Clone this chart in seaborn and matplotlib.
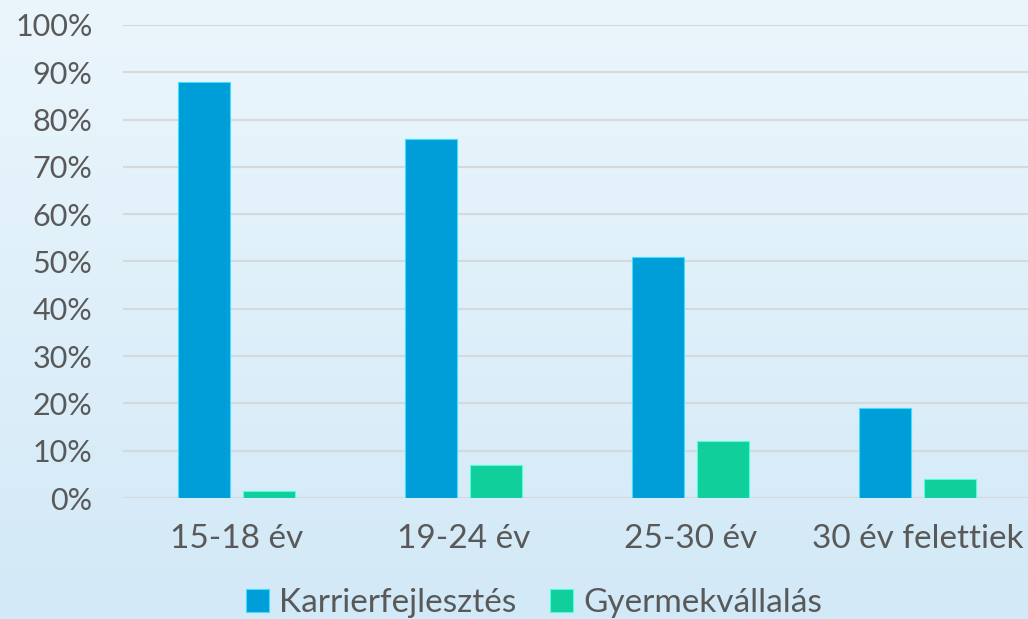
import numpy as np
import pandas as pd
import matplotlib
matplotlib.use("Agg")
import matplotlib.pyplot as plt
import matplotlib.ticker as mtick
import seaborn as sns

# adatok
korcsoportok = ["15-18 év", "19-24 év", "25-30 év", "30 év felettiek"]
karrier = [0.88, 0.76, 0.51, 0.19]
gyermek = [0.015, 0.07, 0.12, 0.04]
sorozatok = ["Karrierfejlesztés", "Gyermekvállalás"]
szinek = ["#009ED8", "#10CF9B"]

df = pd.DataFrame({
    "Korcsoport": korcsoportok * 2,
    "Sorozat": [sorozatok[0]] * 4 + [sorozatok[1]] * 4,
    "Arany": karrier + gyermek,
})

sns.set_style("white")
plt.rcParams["font.family"] = ["Lato", "DejaVu Sans"]

W, H = 1028, 619
fig = plt.figure(figsize=(W / 100, H / 100), dpi=100)

# színátmenetes háttér
bg = fig.add_axes([0, 0, 1, 1], zorder=0)
grad = np.linspace(0, 1, 256).reshape(-1, 1)
top = np.array([0xEB, 0xF6, 0xFC]) / 255
bot = np.array([0xD2, 0xE9, 0xF7]) / 255
img = top + (bot - top) * grad[..., None]
bg.imshow(img, aspect="auto", extent=[0, 1, 0, 1])
bg.axis("off")

ax = fig.add_axes([123 / W, 121 / H, (1031 - 123) / W, (498 - 25) / H], zorder=1)
ax.set_facecolor("none")

sns.barplot(data=df, x="Korcsoport", y="Arany", hue="Sorozat",
            palette=szinek, saturation=1, width=0.573, gap=0.215, ax=ax,
            linewidth=0.8, zorder=3)

for patch in ax.patches:
    fc = patch.get_facecolor()
    patch.set_edgecolor(tuple(min(1, c + 0.25) for c in fc[:3]))

ax.set_ylim(0, 1)
ax.set_xlim(-0.5, 3.5)
ax.yaxis.set_major_locator(mtick.MultipleLocator(0.1))
ax.yaxis.set_major_formatter(mtick.PercentFormatter(1.0, decimals=0))
ax.grid(axis="y", color="#D6D9DC", linewidth=1.5, zorder=0)
ax.set_axisbelow(True)
for s in ax.spines.values():
    s.set_visible(False)

ax.set_xlabel("")
ax.set_ylabel("")
ax.tick_params(axis="y", length=0, pad=22, labelsize=22, labelcolor="#595959")
ax.tick_params(axis="x", length=0, pad=19, labelsize=24, labelcolor="#595959")

leg = ax.legend(loc="center", bbox_to_anchor=(534 / W, (H - 603) / H),
                bbox_transform=fig.transFigure, ncol=2, frameon=False,
                fontsize=24, handlelength=0.7, handleheight=0.7,
                handletextpad=0.3, columnspacing=1.0, borderaxespad=0)
for t in leg.get_texts():
    t.set_color("#595959")

fig.savefig("out.png", dpi=100)
